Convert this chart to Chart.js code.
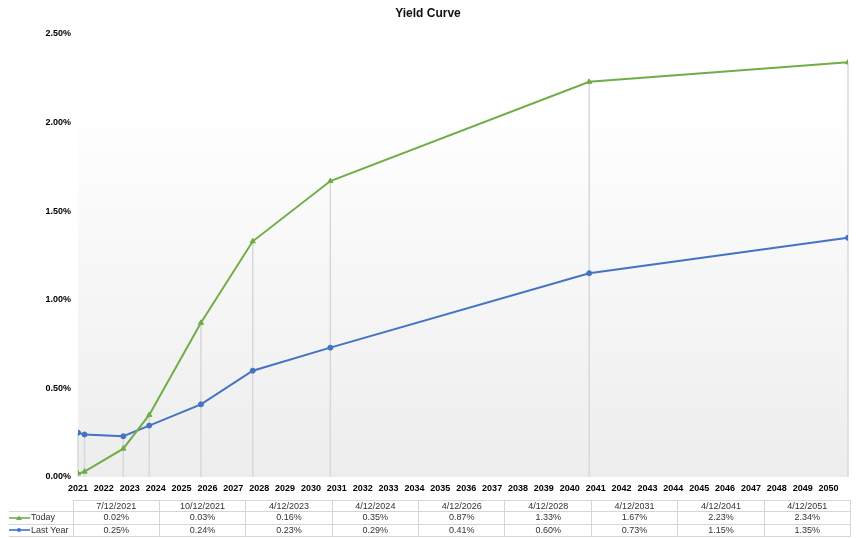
<!DOCTYPE html>
<html>
<head>
<meta charset="utf-8">
<script src="https://cdn.jsdelivr.net/npm/chart.js@4/dist/chart.umd.min.js"></script>
<style>
  html, body { margin: 0; padding: 0; background: #fff; }
  #wrap { position: relative; width: 856px; height: 538px; overflow: hidden; }
  #chart { position: absolute; left: 0; top: 0; }
  #title { position: absolute; left: 0; top: 6px; width: 856px; text-align: center;
           font: bold 12px "Liberation Sans", Arial, sans-serif; color: #111; }
  #tbl { position: absolute; left: 9px; top: 500px; border-collapse: collapse; table-layout: fixed;
         font: 9px "Liberation Sans", Arial, sans-serif; color: #333; }
  #tbl td { border: 1px solid #d6d6d6; padding: 0; text-align: center; white-space: nowrap; overflow: hidden; }
  #tbl td.lab { text-align: left; border-left: none; }
  #tbl tr.head td { height: 10px; line-height: 10px; }
  #tbl tr.head td.blank { border: none; border-right: 1px solid #d6d6d6; }
  #tbl tr.row td { height: 11.5px; line-height: 11px; }
  .key { display: inline-block; vertical-align: middle; margin-right: 1px; }
</style>
</head>
<body>
<div id="wrap">
  <canvas id="chart" width="856" height="538"></canvas>
  <div id="title">Yield Curve</div>
  <table id="tbl"></table>
</div>
<script>
// Maturity dates of the curve points
const dates = ["7/12/2021", "10/12/2021", "4/12/2023", "4/12/2024", "4/12/2026",
               "4/12/2028", "4/12/2031", "4/12/2041", "4/12/2051"];
// Yields in percent
const todayYields = [0.02, 0.03, 0.16, 0.35, 0.87, 1.33, 1.67, 2.23, 2.34];
const lastYearYields = [0.25, 0.24, 0.23, 0.29, 0.41, 0.60, 0.73, 1.15, 1.35];
// Year labels along the time axis
const yearLabels = [];
for (let y = 2021; y <= 2050; y++) yearLabels.push(y);

const seriesNames = ["Today", "Last Year"];
const seriesColors = ["#70ad47", "#4472c4"];

function parseDate(s) {
  const [m, d, y] = s.split("/").map(Number);
  return Date.UTC(y, m - 1, d);
}
const xs = dates.map(parseDate);
const start = new Date(xs[0]);

const FONT = '"Liberation Sans", Arial, sans-serif';

const plotBackground = {
  id: "plotBackground",
  beforeDraw(chart) {
    const a = chart.chartArea, ctx = chart.ctx;
    const g = ctx.createLinearGradient(0, a.top, 0, a.bottom);
    g.addColorStop(0, "#ffffff");
    g.addColorStop(0.15, "#ffffff");
    g.addColorStop(1, "#ededed");
    ctx.save();
    ctx.fillStyle = g;
    ctx.fillRect(a.left, a.top, a.right - a.left, a.bottom - a.top);
    ctx.restore();
  }
};

const dropLines = {
  id: "dropLines",
  beforeDatasetsDraw(chart) {
    const xS = chart.scales.x, yS = chart.scales.y, ctx = chart.ctx;
    ctx.save();
    ctx.strokeStyle = "#d8d8d8";
    ctx.lineWidth = 1.5;
    xs.forEach((xv, i) => {
      const px = xS.getPixelForValue(xv);
      const top = yS.getPixelForValue(Math.max(todayYields[i], lastYearYields[i]));
      ctx.beginPath();
      ctx.moveTo(px, top);
      ctx.lineTo(px, chart.chartArea.bottom);
      ctx.stroke();
    });
    ctx.restore();
  }
};

new Chart(document.getElementById("chart"), {
  type: "line",
  data: {
    datasets: [
      {
        label: seriesNames[0],
        data: xs.map((x, i) => ({ x, y: todayYields[i] })),
        borderColor: seriesColors[0], backgroundColor: seriesColors[0],
        borderWidth: 2, pointStyle: "triangle", pointRadius: 3, pointBorderWidth: 1,
        tension: 0
      },
      {
        label: seriesNames[1],
        data: xs.map((x, i) => ({ x, y: lastYearYields[i] })),
        borderColor: seriesColors[1], backgroundColor: seriesColors[1],
        borderWidth: 2, pointStyle: "circle", pointRadius: 2.5, pointBorderWidth: 1,
        tension: 0
      }
    ]
  },
  options: {
    responsive: false,
    animation: false,
    devicePixelRatio: 1,
    layout: { padding: { left: 0, right: 8, top: 34, bottom: 40 } },
    plugins: { legend: { display: false }, title: { display: false }, tooltip: { enabled: false } },
    scales: {
      x: {
        type: "linear",
        min: xs[0],
        max: xs[xs.length - 1],
        afterBuildTicks(scale) {
          scale.ticks = yearLabels.map(y =>
            ({ value: Date.UTC(y, start.getUTCMonth(), start.getUTCDate()) }));
        },
        afterFit(scale) { scale.height = 21; },
        grid: { display: false, drawTicks: false },
        border: { display: false },
        ticks: {
          autoSkip: false, maxRotation: 0, padding: 6, color: "#000",
          font: { family: FONT, size: 9, weight: "bold" },
          callback: v => new Date(v).getUTCFullYear()
        }
      },
      y: {
        min: 0, max: 2.5,
        afterFit(scale) { scale.width = 78; },
        grid: { display: false, drawTicks: false },
        border: { display: false },
        ticks: {
          stepSize: 0.5, padding: 7, color: "#000",
          font: { family: FONT, size: 9, weight: "bold" },
          callback: v => v.toFixed(2) + "%"
        }
      }
    }
  },
  plugins: [plotBackground, dropLines]
});

// Data table under the chart
function keySvg(color, shape) {
  const marker = shape === "triangle"
    ? `<polygon points="10,1.5 13,6 7,6" fill="${color}"/>`
    : `<circle cx="10" cy="4" r="2" fill="${color}"/>`;
  return `<svg class="key" width="21" height="8" viewBox="0 0 21 8">` +
         `<line x1="0" y1="4" x2="21" y2="4" stroke="${color}" stroke-width="1.6"/>${marker}</svg>`;
}
const tbl = document.getElementById("tbl");
let html = `<colgroup><col style="width:64px">` + dates.map(() => `<col style="width:86.4px">`).join("") + `</colgroup>`;
html += `<tr class="head"><td class="blank"></td>` + dates.map(d => `<td>${d}</td>`).join("") + `</tr>`;
[todayYields, lastYearYields].forEach((vals, k) => {
  html += `<tr class="row"><td class="lab">${keySvg(seriesColors[k], k === 0 ? "triangle" : "circle")}${seriesNames[k]}</td>` +
          vals.map(v => `<td>${v.toFixed(2)}%</td>`).join("") + `</tr>`;
});
tbl.innerHTML = html;
</script>
</body>
</html>
